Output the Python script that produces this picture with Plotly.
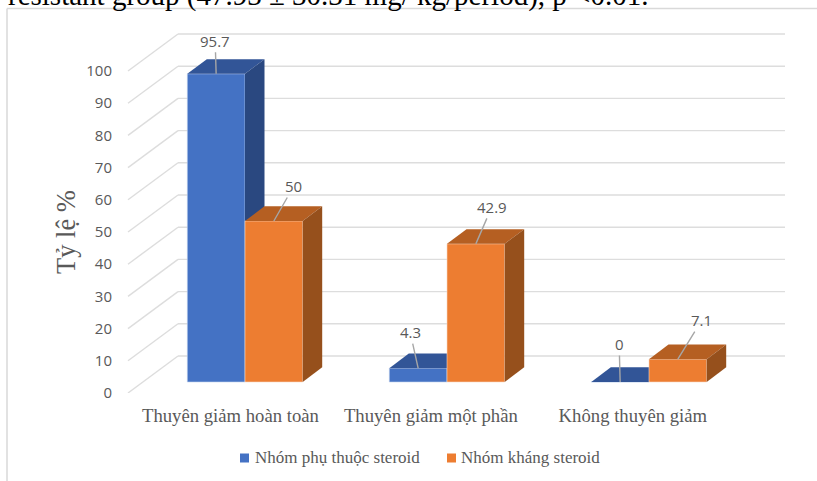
import plotly.graph_objects as go

# Remission outcome by patient group, percentages
categories = ["Thuyên giảm hoàn toàn", "Thuyên giảm một phần", "Không thuyên giảm"]
dependent_name = "Nhóm phụ thuộc steroid"
resistant_name = "Nhóm kháng steroid"
dependent_values = [95.7, 4.3, 0]
resistant_values = [50, 42.9, 7.1]
value_ticks = [0, 10, 20, 30, 40, 50, 60, 70, 80, 90, 100]
caption = "resistant group (47.93 ± 30.31 mg/ kg/period), p <0.01."
axis_title = "Tỷ lệ %"

W, H = 817, 481
LEFT, RIGHT, TOP, BOTTOM = 116, 800, 20, 393
PX_PER_GROUP = 202.0
PX_PER_UNIT = 3.22
ZERO_X_PX, ZERO_Y_PX = 245.0, 382.0

x_range = [(LEFT - ZERO_X_PX) / PX_PER_GROUP, (RIGHT - ZERO_X_PX) / PX_PER_GROUP]
y_range = [(ZERO_Y_PX - BOTTOM) / PX_PER_UNIT, (ZERO_Y_PX - TOP) / PX_PER_UNIT]

BAR_W = 57.7 / PX_PER_GROUP
# oblique projection of the bar depth
DEPTH_X = 19.5 / PX_PER_GROUP
DEPTH_Y = 14.7 / PX_PER_UNIT
# floor edges of the chart box, relative to the bars' front edge
FRONT_Y = (ZERO_Y_PX - 393) / PX_PER_UNIT
BACK_Y = (ZERO_Y_PX - 356) / PX_PER_UNIT
WALL_LEFT = (128 - ZERO_X_PX) / PX_PER_GROUP
WALL_INNER = (178 - ZERO_X_PX) / PX_PER_GROUP
WALL_RIGHT = (785 - ZERO_X_PX) / PX_PER_GROUP

SERIF = "Liberation Serif"
SANS = "Open Sans, Liberation Sans"
TEXT_GRAY = "#595959"


def px(xp):
    return (xp - LEFT) / (RIGHT - LEFT)


def py(yp):
    return (BOTTOM - yp) / (BOTTOM - TOP)


def add_series(fig, name, values, offset, front, top, side, edge, xa, ya):
    fig.add_trace(go.Bar(
        x=list(range(len(values))), y=values, name=name, width=BAR_W, offset=offset,
        marker=dict(color=front, line=dict(color=edge, width=0.6)),
        xaxis=xa, yaxis=ya, hoverinfo="name+y", showlegend=False,
    ))
    for i, v in enumerate(values):
        x0 = i + offset
        x1 = x0 + BAR_W
        fig.add_trace(go.Scatter(
            x=[x0, x1, x1 + DEPTH_X, x0 + DEPTH_X, x0],
            y=[v, v, v + DEPTH_Y, v + DEPTH_Y, v],
            fill="toself", fillcolor=top, mode="lines", line=dict(width=0, color=top),
            showlegend=False, hoverinfo="skip", xaxis=xa, yaxis=ya,
        ))
        fig.add_trace(go.Scatter(
            x=[x1, x1 + DEPTH_X, x1 + DEPTH_X, x1, x1],
            y=[0, DEPTH_Y, v + DEPTH_Y, v, 0],
            fill="toself", fillcolor=side, mode="lines", line=dict(width=0, color=side),
            showlegend=False, hoverinfo="skip", xaxis=xa, yaxis=ya,
        ))


fig = go.Figure()
add_series(fig, dependent_name, dependent_values, -BAR_W,
           "#4472C4", "#325597", "#2A4880", "#C5D3EE", "x", "y")
add_series(fig, resistant_name, resistant_values, 0,
           "#ED7D31", "#B55F22", "#96501C", "#F8D9C4", "x2", "y2")

# chart box: slanted floor-to-wall rulings plus the horizontal back-wall rulings
shapes = []
grid = dict(color="#DDDDDD", width=1.4)
for t in value_ticks:
    shapes.append(dict(type="line", xref="x", yref="y", layer="below", line=grid,
                       x0=WALL_LEFT, y0=t + FRONT_Y, x1=WALL_INNER, y1=t + BACK_Y))
    shapes.append(dict(type="line", xref="x", yref="y", layer="below", line=grid,
                       x0=WALL_INNER, y0=t + BACK_Y, x1=WALL_RIGHT, y1=t + BACK_Y))
# outer frame along the top and left
frame = dict(color="#D9D9D9", width=1.5)
shapes.append(dict(type="line", xref="paper", yref="paper", line=frame,
                   x0=px(7), y0=py(8.5), x1=px(817), y1=py(8.5)))
shapes.append(dict(type="line", xref="paper", yref="paper", line=frame,
                   x0=px(7), y0=py(8.5), x1=px(7), y1=py(481)))

# value labels with leader lines: (series values, bar offset, label offsets in pixels)
annotations = []
leaders = [
    (dependent_values, -BAR_W / 2, [(-1, -33), (-8, -36), (-1, -38)]),
    (resistant_values, BAR_W / 2, [(20, -35), (16, -37), (24, -39)]),
]
for values, off, offsets in leaders:
    for i, (v, (ax, ay)) in enumerate(zip(values, offsets)):
        annotations.append(dict(
            x=i + off, y=v, xref="x", yref="y", text=str(v), showarrow=True,
            ax=ax, ay=ay, axref="pixel", ayref="pixel", arrowhead=0, arrowwidth=1.4,
            arrowcolor="#A6A6A6", standoff=0, startstandoff=0,
            font=dict(family=SANS, size=15, color=TEXT_GRAY),
        ))

# trailing line of the paragraph above the figure, cut off by the page edge
annotations.append(dict(
    x=px(6), y=py(-4), xref="paper", yref="paper", xanchor="left", yanchor="middle",
    text=caption, showarrow=False,
    font=dict(family=SERIF, size=29, color="#000000"),
))

# rotated value-axis title
annotations.append(dict(
    x=px(66), y=py(232), xref="paper", yref="paper", xanchor="center", yanchor="middle",
    text=axis_title, textangle=-90, showarrow=False,
    font=dict(family=SERIF, size=26.5, color=TEXT_GRAY),
))

# legend row: small colour squares followed by the series names
for name, color, sq_left, text_left in [
    (dependent_name, "#4472C4", 240, 253),
    (resistant_name, "#ED7D31", 447, 459),
]:
    shapes.append(dict(type="rect", xref="paper", yref="paper", line=dict(width=0),
                       fillcolor=color, x0=px(sq_left), x1=px(sq_left + 9),
                       y0=py(453.5), y1=py(462.5)))
    annotations.append(dict(
        x=px(text_left), y=py(457), xref="paper", yref="paper",
        xanchor="left", yanchor="middle", text=name, showarrow=False,
        font=dict(family=SERIF, size=17, color=TEXT_GRAY),
    ))

fig.update_layout(
    width=W, height=H,
    margin=dict(l=LEFT, r=W - RIGHT, t=TOP, b=H - BOTTOM, autoexpand=False),
    paper_bgcolor="white", plot_bgcolor="rgba(0,0,0,0)",
    barmode="overlay", showlegend=False,
    shapes=shapes, annotations=annotations,
    xaxis=dict(
        range=x_range, showgrid=False, zeroline=False, showline=False, ticks="",
        tickvals=[-0.072, 0.92, 1.92], ticktext=categories, ticklabelstandoff=9,
        tickangle=0,
        tickfont=dict(family=SERIF, size=18.7, color=TEXT_GRAY),
    ),
    yaxis=dict(
        range=y_range, showgrid=False, zeroline=False, showline=False, ticks="",
        tickvals=[t + FRONT_Y for t in value_ticks], ticktext=[str(t) for t in value_ticks],
        ticklabelstandoff=3,
        tickfont=dict(family=SANS, size=15, color=TEXT_GRAY),
    ),
    xaxis2=dict(range=x_range, overlaying="x", visible=False),
    yaxis2=dict(range=y_range, overlaying="y", visible=False),
)

fig.write_html("out.html")
